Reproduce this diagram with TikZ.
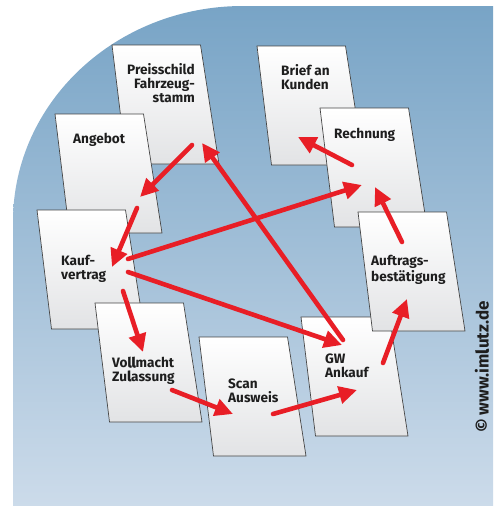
\documentclass[tikz,border=0pt]{standalone}
\usepackage{fontspec}
\setmainfont{Fira Sans}
\newfontfamily\heavyfont{Fira Sans}[BoldFeatures={FakeBold=2.5}]
\usetikzlibrary{arrows.meta}
\definecolor{bgtop}{RGB}{120,164,198}
\definecolor{bgbot}{RGB}{204,219,234}
\definecolor{papergray}{RGB}{226,227,229}
\definecolor{paperedge}{RGB}{70,70,70}
\definecolor{arrowred}{RGB}{232,30,38}
\definecolor{inktext}{RGB}{30,30,30}
\newcommand\docsheet[3]{%
  \coordinate (#1) at (#2,#3);
  \shade[top color=white, bottom color=papergray, draw=paperedge, line width=0.7pt]
    (#1) -- ++(88.5,0) -- ++(18.5,119) -- ++(-92.5,0) -- cycle;}
\newcommand\hl[1]{{\heavyfont\bfseries #1}}
\tikzset{
  label/.style={font=\fontsize{13.6}{13.8}\selectfont\bfseries, text=inktext, inner sep=0pt, anchor=base west, align=left},
  flow/.style={draw=arrowred, line width=4.6pt, line cap=round, -{Triangle[length=18pt,width=17pt]}},
}
\begin{document}
\begin{tikzpicture}[x=1pt,y=-1pt]
\useasboundingbox (0,0) rectangle (493,506);
\fill[white] (0,0) rectangle (493,506);
% background
\shade[top color=bgtop, bottom color=bgbot]
  (493pt,-6pt) -- (243pt,-6pt)
  arc[start angle=90, end angle=180, x radius=230pt, y radius=215.5pt]
  -- (13pt,-506pt) -- (493pt,-506pt) -- cycle;
% sheets (back to front)
\docsheet{pr}{112}{45}
\docsheet{an}{55}{114}
\docsheet{kv}{37}{210}
\docsheet{vz}{95}{303}
\docsheet{sa}{199}{337}
\docsheet{br}{257}{46}
\docsheet{re}{320}{108}
\docsheet{gw}{301}{317}
\docsheet{ab}{358}{212}
% labels (anchor = baseline of the last line)
\node[label, anchor=base east, align=right] (tpr) at (195,102) {Preisschild\\Fahrzeug-\\stamm};
\node[label] (tan) at (73,143) {Angebot};
\node[label] (tbr) at (281,89) {Brief an\\Kunden};
\node[label] (tre) at (334,138) {Rechnung};
\node[label] (tkv) at (61,279) {Kauf-\\vertrag};
\node[label] (tab) at (371,281) {Auftrags-\\bestätigung};
\node[label] (tvz) at (112,381) {Vo\hl{ll}macht\\Zu\hl{l}assung};
\node[label] (tsa) at (228,402) {Scan\\Ausweis};
\node[label] (tgw) at (325,377) {GW\\Ankauf};
\node[font=\fontsize{17}{17}\selectfont\bfseries, text=inktext, inner sep=0pt, rotate=90, anchor=base west] (copy) at (488.5,433) {© www.im\hl{l}utz.de};
% arrow end points
\coordinate (a1) at (192,145); \coordinate (a2) at (140,197);
\coordinate (b1) at (137,208); \coordinate (b2) at (112,267);
\coordinate (c1) at (128,259); \coordinate (c2) at (362,185);
\coordinate (d1) at (128,272); \coordinate (d2) at (342,345);
\coordinate (e1) at (343,340); \coordinate (e2) at (202,143);
\coordinate (f1) at (123,291); \coordinate (f2) at (143,352);
\coordinate (g1) at (172,390); \coordinate (g2) at (233,414);
\coordinate (h1) at (273,414); \coordinate (h2) at (357,390);
\coordinate (i1) at (383,363); \coordinate (i2) at (407,299);
\coordinate (j1) at (402,242); \coordinate (j2) at (375,187);
\coordinate (k1) at (352,165); \coordinate (k2) at (298,137);
\draw[flow] (a1) -- (a2);
\draw[flow] (b1) -- (b2);
\draw[flow] (c1) -- (c2);
\draw[flow] (d1) -- (d2);
\draw[flow] (e1) -- (e2);
\draw[flow] (f1) -- (f2);
\draw[flow] (g1) -- (g2);
\draw[flow] (h1) -- (h2);
\draw[flow] (i1) -- (i2);
\draw[flow] (j1) -- (j2);
\draw[flow] (k1) -- (k2);
\end{tikzpicture}
\end{document}
